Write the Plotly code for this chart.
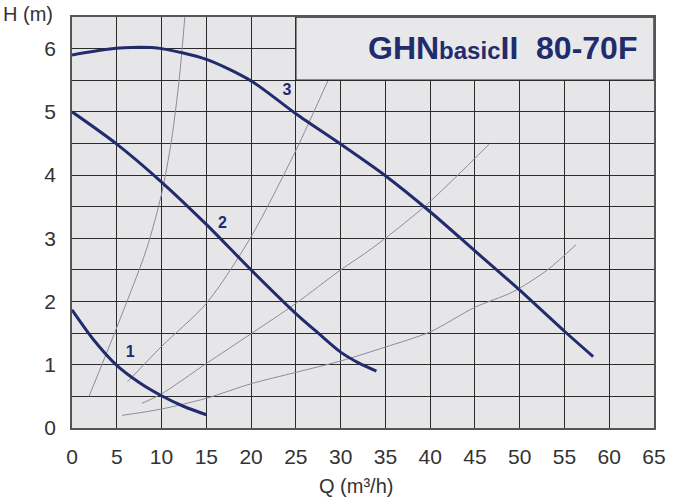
import plotly.graph_objects as go

# Pump performance curves (Q in m3/h, H in m)
q_curve1 = [0, 2.5, 5, 7.5, 10, 12.5, 15]
h_curve1 = [1.87, 1.38, 0.99, 0.72, 0.51, 0.34, 0.21]

q_curve2 = [0, 5, 10, 15, 20, 25, 27.5, 30, 32, 34]
h_curve2 = [5.0, 4.49, 3.89, 3.22, 2.5, 1.81, 1.5, 1.2, 1.03, 0.9]

q_curve3 = [0, 4, 7.5, 10, 15, 20, 25, 30, 35, 40, 45, 50, 55, 58.2]
h_curve3 = [5.9, 5.99, 6.02, 6.0, 5.83, 5.49, 4.97, 4.49, 3.99, 3.42, 2.8, 2.18, 1.53, 1.13]

# Thin system / reference curves
q_thin_a = [1.9, 5, 8.3, 10, 11.1, 12.0, 12.6]
h_thin_a = [0.5, 1.59, 2.82, 3.7, 4.54, 5.55, 6.5]

q_thin_b = [6.2, 10, 15, 19.9, 25, 28.6]
h_thin_b = [0.73, 1.29, 1.97, 3.0, 4.39, 5.5]

q_thin_c = [7.8, 10, 15, 20, 25, 30, 33.5, 39.5, 46.6]
h_thin_c = [0.39, 0.54, 1.02, 1.49, 1.97, 2.5, 2.84, 3.52, 4.49]

q_thin_d = [5.6, 10, 15, 20, 25, 30, 35, 40, 45, 49.2, 53, 56.3]
h_thin_d = [0.2, 0.3, 0.47, 0.7, 0.88, 1.06, 1.28, 1.52, 1.91, 2.15, 2.49, 2.9]

# Curve number labels
label_text = ["1", "2", "3"]
label_q = [6.5, 16.8, 24.0]
label_h = [1.18, 3.23, 5.33]

x_ticks = list(range(0, 70, 5))

NAVY = "#222b6c"
THIN = "#8c8c98"
GRID = "#2b2b2b"
BG = "#e6e6e9"

fig = go.Figure()

for qs, hs in [(q_thin_a, h_thin_a), (q_thin_b, h_thin_b),
               (q_thin_c, h_thin_c), (q_thin_d, h_thin_d)]:
    fig.add_trace(go.Scatter(x=qs, y=hs, mode="lines",
                             line=dict(color=THIN, width=1, shape="spline", smoothing=0.8),
                             hoverinfo="skip", showlegend=False))

for qs, hs in [(q_curve1, h_curve1), (q_curve2, h_curve2), (q_curve3, h_curve3)]:
    fig.add_trace(go.Scatter(x=qs, y=hs, mode="lines",
                             line=dict(color=NAVY, width=3, shape="spline", smoothing=0.8),
                             showlegend=False))

fig.add_trace(go.Scatter(x=label_q, y=label_h, mode="text", text=label_text,
                         textfont=dict(family="Liberation Sans", size=16, color=NAVY,
                                       weight="bold"),
                         showlegend=False, hoverinfo="skip"))

# Model name box in the upper right corner
fig.add_shape(type="rect", x0=25, x1=65, y0=5.5, y1=6.5, xref="x", yref="y",
              fillcolor="#e8e8ea", line=dict(color=GRID, width=1.3), layer="above")

fig.add_annotation(
    x=48.1, y=6.01, xref="x", yref="y", showarrow=False,
    xanchor="center", yanchor="middle",
    text=("<b><span style='font-size:32px'>GHN</span>"
          "<span style='font-size:24px'>basic</span>"
          "<span style='font-size:32px'>II  80-70F</span></b>"),
    font=dict(family="Liberation Sans", color=NAVY, size=32),
)

fig.add_annotation(x=0, y=1, xref="paper", yref="paper", xshift=-71, yshift=3,
                   xanchor="left", yanchor="middle", showarrow=False,
                   text="H (m)", font=dict(family="Liberation Sans", size=20, color="#333"))
fig.add_annotation(x=(361 - 72) / (664 - 72), y=-(486 - 428) / (428 - 17),
                   xref="paper", yref="paper", showarrow=False,
                   xanchor="center", yanchor="middle",
                   text="Q (m³/h)", font=dict(family="Liberation Sans", size=20, color="#333"))

fig.update_layout(
    width=678, height=502,
    margin=dict(l=72, r=14, t=17, b=74),
    paper_bgcolor="white", plot_bgcolor=BG,
    font=dict(family="Liberation Sans", size=21, color="#333"),
)

fig.update_xaxes(range=[0, 65], tickvals=x_ticks, ticks="outside", ticklen=9,
                 tickcolor="rgba(0,0,0,0)", showgrid=True, gridcolor=GRID, gridwidth=1.3,
                 zeroline=False, showline=True, linecolor="#555", linewidth=1.5,
                 mirror=True, fixedrange=True)
fig.update_yaxes(range=[0, 6.5], tickvals=[v / 2 for v in range(0, 14)],
                 ticktext=[str(v // 2) if v % 2 == 0 else "" for v in range(0, 14)],
                 ticks="outside", ticklen=10, tickcolor="rgba(0,0,0,0)",
                 showgrid=True, gridcolor=GRID, gridwidth=1.3, zeroline=False,
                 showline=True, linecolor="#555", linewidth=1.5, mirror=True,
                 fixedrange=True)

fig.write_html("out.html")
